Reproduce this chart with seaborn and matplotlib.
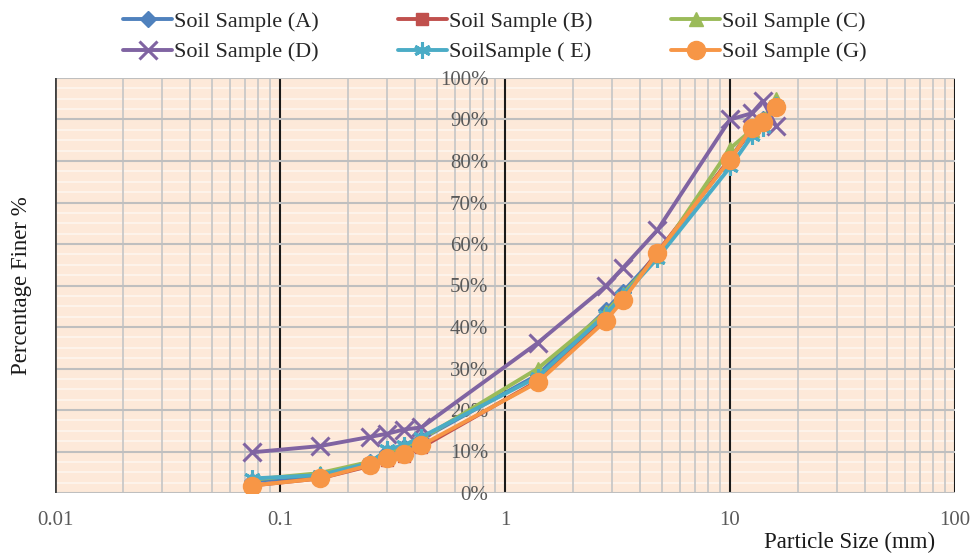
import numpy as np
import pandas as pd
import matplotlib
matplotlib.use("Agg")
import matplotlib.pyplot as plt
import matplotlib.ticker as mticker
import seaborn as sns

# sieve sizes (mm) and percent finer for each sample
sizes = [0.075, 0.15, 0.25, 0.3, 0.355, 0.425, 1.4, 2.8, 3.35, 4.75, 10, 12.5, 14, 16]
sample_a = [2.9, 4.0, 7.5, 10.0, 11.0, 13.0, 28.5, 44.0, 48.5, 57.5, 80.5, 88.0, 90.0, 93.5]
sample_b = [1.8, 3.5, 6.5, 8.0, 9.0, 11.0, 27.0, 42.0, 47.0, 58.0, 80.5, 87.5, 89.5, 93.0]
sample_c = [3.2, 4.8, 7.5, 10.0, 11.0, 13.0, 30.0, 43.5, 48.0, 57.0, 83.0, 87.5, 90.0, 95.0]
sample_d = [9.8, 11.3, 13.5, 14.3, 15.3, 15.8, 36.2, 49.8, 54.3, 63.3, 90.0, 91.5, 94.5, 88.5]
sample_e = [3.5, 4.3, 7.2, 10.5, 11.5, 13.5, 28.0, 43.0, 47.5, 56.5, 78.5, 86.0, 88.0, 93.5]
sample_g = [1.8, 3.5, 6.7, 8.5, 9.5, 11.5, 26.7, 41.5, 46.5, 57.8, 80.3, 88.0, 89.5, 93.0]

labels = ["Soil Sample (A)", "Soil Sample (B)", "Soil Sample (C)",
          "Soil Sample (D)", "SoilSample ( E)", "Soil Sample (G)"]
series = [sample_a, sample_b, sample_c, sample_d, sample_e, sample_g]
colors = ["#4F81BD", "#C0504D", "#9BBB59", "#8064A2", "#4BACC6", "#F79646"]
markers = ["D", "s", "^", "x", (6, 2, 0), "o"]
msizes = [8, 9, 10, 13, 12, 13]

sns.set_style("white")
plt.rcParams['font.family'] = ['Liberation Serif', 'DejaVu Serif']

fig = plt.figure(figsize=(9.75, 5.55), dpi=100)
ax = fig.add_axes([55/975, 1-493/555, 900/975, 415/555])
ax.set_facecolor("#FDE9D9")

for lab, vals, c, m, ms in zip(labels, series, colors, markers, msizes):
    df = pd.DataFrame({"size": sizes, "finer": vals})
    sns.lineplot(data=df, x="size", y="finer", ax=ax, color=c, marker=m,
                 markersize=ms, markeredgecolor=c,
                 markeredgewidth=2.2 if m in ("x", (6, 2, 0)) else 1,
                 linewidth=2.8, label=lab, sort=False, zorder=3)

ax.set_xscale("log")
ax.set_xlim(0.01, 100)
ax.set_ylim(0, 100)

# y axis crosses at x = 1
ax.spines['left'].set_position(('data', 1))
ax.spines['left'].set_visible(False)
for s in ['top', 'right', 'bottom']:
    ax.spines[s].set_visible(False)
ax.axvline(0.01, color="#404040", lw=2, zorder=0.6)

# faint light stripes of the chart fill
for yv in np.arange(2.5, 100, 2.5):
    if yv % 10:
        ax.axhline(yv, color="white", lw=1.2, alpha=0.55, zorder=0.2)

ax.yaxis.set_major_locator(mticker.MultipleLocator(10))
ax.yaxis.set_major_formatter(mticker.FuncFormatter(lambda v, p: f"{v:.0f}%"))
ax.xaxis.set_major_locator(mticker.LogLocator(base=10))
ax.xaxis.set_minor_locator(mticker.LogLocator(base=10, subs=np.arange(2, 10)))
ax.xaxis.set_major_formatter(mticker.FuncFormatter(lambda v, p: f"{v:g}"))
ax.xaxis.set_minor_formatter(mticker.NullFormatter())

ax.tick_params(axis='y', which='both', length=0, pad=12, labelsize=15, labelcolor="#595959")
ax.tick_params(axis='x', which='both', length=0, pad=13, labelsize=15, labelcolor="#595959")

ax.yaxis.grid(True, which='major', color="#BFBFBF", lw=1.5)
ax.xaxis.grid(True, which='minor', color="#C8C8C8", lw=1.3)
ax.xaxis.grid(True, which='major', color="#1a1a1a", lw=1.5)
for t in ax.xaxis.get_major_ticks():
    if abs(t.get_loc() - 1) < 1e-9:
        t.gridline.set_color("#BFBFBF")
ax.set_axisbelow(True)

ax.set_xlabel("Particle Size (mm)", fontsize=16.5, color="#1a1a1a")
ax.xaxis.set_label_coords(0.883, -0.094)
ax.set_ylabel("Percentage Finer %", fontsize=16.5, color="#1a1a1a")
ax.yaxis.set_label_coords(-0.025, 0.5)

handles, labs = ax.get_legend_handles_labels()
order = [0, 3, 1, 4, 2, 5]
ax.legend([handles[i] for i in order], [labs[i] for i in order], ncol=3,
          loc='lower center', bbox_to_anchor=(0.489, 1.0), frameon=False,
          fontsize=16, handlelength=2.2, columnspacing=3.55, labelspacing=0.45,
          handletextpad=0.1, borderaxespad=0.3)

fig.savefig("out.png", dpi=100)
